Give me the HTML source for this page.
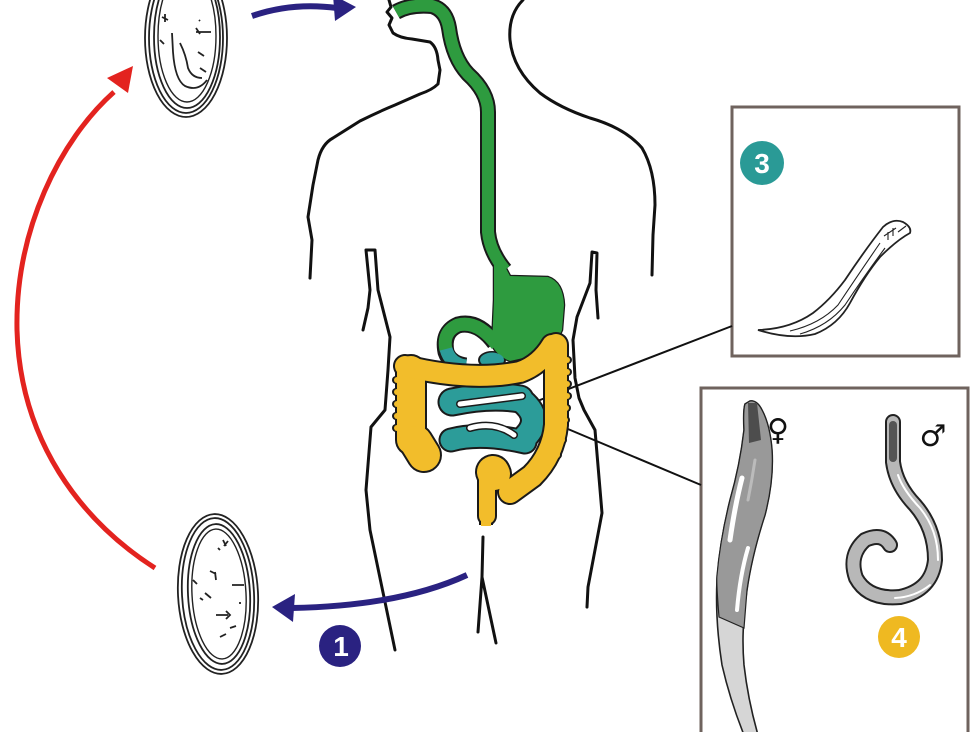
<!DOCTYPE html>
<html>
<head>
<meta charset="utf-8">
<style>
html,body{margin:0;padding:0;background:#fff;}
svg{display:block;}
</style>
</head>
<body>
<svg width="979" height="732" viewBox="0 0 979 732" xmlns="http://www.w3.org/2000/svg">
<rect width="979" height="732" fill="#fff"/>

<!-- Boxes -->
<rect x="732" y="107" width="227" height="249" fill="#fff" stroke="#6f635e" stroke-width="3"/>
<rect x="701" y="388" width="267" height="360" fill="#fff" stroke="#6f635e" stroke-width="3"/>

<!-- Connector lines -->
<line x1="527" y1="405" x2="732" y2="326" stroke="#111" stroke-width="2"/>
<line x1="556" y1="424" x2="701" y2="485" stroke="#111" stroke-width="2"/>

<!-- Body outline -->
<g fill="none" stroke="#111" stroke-width="3" stroke-linejoin="round" stroke-linecap="round">
  <path d="M389,0 L391,7 L387,12 L392,18 L389,25 L393,33 Q400,38 412,39 L430,42 Q437,47 438,60 L440,70 L438,84 Q432,90 420,94 L395,105 Q378,112 360,121 L333,138 Q322,144 318,160 L313,185 L308,217 L312,240 L310,278"/>
  <path d="M523,0 Q508,15 510,40 Q513,70 540,93 Q560,108 590,118 Q625,128 642,148 Q655,170 655,205 L653,235 L652,275"/>
  <path d="M363,330 L368,308 L370,290 L366,250 L375,250 L378,290 L390,337 L388,370 L385,410 L371,427 L366,490 L370,530 L395,650"/>
  <path d="M598,318 L596,290 L597,253 L592,252 L590,283 L577,317 L573,340 L575,378 L579,398 L584,410 L595,430 L602,513 L588,587 L587,607"/>
  <path d="M483,537 L482,577 L478,632 M482,577 L496,643"/>
</g>

<!-- Esophagus outline -->
<path d="M396,12 Q410,4 432,6 Q446,10 449,28 Q453,58 468,74 Q488,92 488,112 L488,232 Q490,252 505,270" fill="none" stroke="#1a1a1a" stroke-width="16" stroke-linecap="butt"/>
<!-- Duodenum arc outline -->
<path d="M495,343 Q478,320 458,325 Q442,332 446,352 Q450,364 466,366" fill="none" stroke="#1a1a1a" stroke-width="17"/>
<ellipse cx="492" cy="360" rx="14" ry="9" fill="#1a1a1a"/>
<!-- Stomach -->
<path d="M494,245 L510,276 L548,277 Q563,282 564,305 L562,330 Q555,348 532,356 L510,361 Q497,356 492,345 L494,300 Z" fill="#2e9b3f" stroke="#1a1a1a" stroke-width="2.5"/>
<path d="M396,12 Q410,4 432,6 Q446,10 449,28 Q453,58 468,74 Q488,92 488,112 L488,232 Q490,252 505,270" fill="none" stroke="#2e9b3f" stroke-width="12"/>
<path d="M494,245 L510,276 L548,277 Q563,282 564,305 L562,330 Q555,348 532,356 L510,361 Q497,356 492,345 L494,300 Z" fill="#2e9b3f"/>
<path d="M497,345 Q478,320 458,325 Q442,332 446,350" fill="none" stroke="#2e9b3f" stroke-width="13"/>
<path d="M446,349 Q450,364 466,366" fill="none" stroke="#2c9c99" stroke-width="13"/>
<ellipse cx="492" cy="360" rx="12" ry="7.5" fill="#2c9c99"/>

<!-- Small intestine -->
<g fill="none" stroke-linecap="round" stroke-linejoin="round">
  <g stroke="#1a1a1a">
    <path d="M452,402 Q490,394 520,399" stroke-width="29"/>
    <path d="M522,401 Q545,420 522,440" stroke-width="27"/>
    <path d="M451,440 Q480,432 525,442" stroke-width="25"/>
  </g>
  <g stroke="#2c9c99">
    <path d="M452,402 Q490,394 520,399" stroke-width="25"/>
    <path d="M522,401 Q545,420 522,440" stroke-width="23"/>
    <path d="M451,440 Q480,432 525,442" stroke-width="21"/>
  </g>
  <path d="M460,404 Q490,400 522,396" stroke="#1a1a1a" stroke-width="8"/>
  <path d="M460,404 Q490,400 522,396" stroke="#fff" stroke-width="5"/>
  <path d="M470,428 Q495,421 514,435" stroke="#1a1a1a" stroke-width="8"/>
  <path d="M470,428 Q495,421 514,435" stroke="#fff" stroke-width="5"/>
</g>

<!-- Colon -->
<g fill="none" stroke-linecap="round" stroke-linejoin="round">
  <g stroke="#1a1a1a">
    <path d="M411,370 L411,440" stroke-width="32"/>
    <path d="M416,442 L424,455" stroke-width="36"/>
    <path d="M405,366 Q470,382 520,372 Q540,365 552,345" stroke-width="24"/>
    <path d="M556,345 L556,425 Q553,455 532,476 L510,492" stroke-width="26"/>
    <path d="M493,472 L494,474" stroke-width="36"/>
    <path d="M487,480 L487,516" stroke-width="20"/>
    <path d="M486,516 L486,525" stroke-width="14" stroke-linecap="butt"/>
  </g>
  <g fill="#1a1a1a" stroke="none">
    <circle cx="396" cy="380" r="4"/><circle cx="396" cy="392" r="4"/><circle cx="396" cy="404" r="4"/><circle cx="396" cy="416" r="4"/><circle cx="396" cy="428" r="4"/>
    <circle cx="568" cy="360" r="4"/><circle cx="568" cy="372" r="4"/><circle cx="568" cy="384" r="4"/><circle cx="568" cy="396" r="4"/><circle cx="567" cy="408" r="4"/><circle cx="566" cy="420" r="4"/><circle cx="563" cy="440" r="4"/><circle cx="558" cy="455" r="4"/><circle cx="549" cy="468" r="4"/><circle cx="538" cy="480" r="4"/>
  </g>
  <g stroke="#f2bd2b">
    <path d="M411,370 L411,440" stroke-width="28"/>
    <path d="M416,442 L424,455" stroke-width="32"/>
    <path d="M405,366 Q470,382 520,372 Q540,365 552,345" stroke-width="20"/>
    <path d="M556,345 L556,425 Q553,455 532,476 L510,492" stroke-width="22"/>
    <path d="M493,472 L494,474" stroke-width="32"/>
    <path d="M487,480 L487,516" stroke-width="16"/>
    <path d="M486,516 L486,526" stroke-width="10" stroke-linecap="butt"/>
  </g>
  <g fill="#f2bd2b" stroke="none">
    <circle cx="397" cy="380" r="3"/><circle cx="397" cy="392" r="3"/><circle cx="397" cy="404" r="3"/><circle cx="397" cy="416" r="3"/><circle cx="397" cy="428" r="3"/>
    <circle cx="567" cy="360" r="3"/><circle cx="567" cy="372" r="3"/><circle cx="567" cy="384" r="3"/><circle cx="567" cy="396" r="3"/><circle cx="566" cy="408" r="3"/><circle cx="565" cy="420" r="3"/><circle cx="562" cy="440" r="3"/><circle cx="557" cy="455" r="3"/><circle cx="548" cy="468" r="3"/><circle cx="537" cy="480" r="3"/>
  </g>
</g>

<!-- Arrows -->
<path d="M155,568 C80,520 20,440 17,330 C15,230 60,140 114,92" fill="none" stroke="#e3231f" stroke-width="5"/>
<polygon points="133,66 128,93 107,78" fill="#e3231f"/>

<path d="M252,16 Q292,2 337,8" fill="none" stroke="#2a2281" stroke-width="6"/>
<polygon points="356,7 333,-5 335,21" fill="#2a2281"/>

<path d="M467,575 Q400,606 292,608" fill="none" stroke="#2a2281" stroke-width="6"/>
<polygon points="272,607 295,594 293,622" fill="#2a2281"/>

<!-- Badges -->
<circle cx="340" cy="646" r="21" fill="#2a2281"/>
<text x="341" y="656" font-family="Liberation Sans, sans-serif" font-weight="bold" font-size="28" fill="#fff" text-anchor="middle">1</text>
<circle cx="762" cy="163" r="22" fill="#2a9a96"/>
<text x="762" y="173" font-family="Liberation Sans, sans-serif" font-weight="bold" font-size="28" fill="#fff" text-anchor="middle">3</text>
<circle cx="899" cy="637" r="21" fill="#efb921"/>
<text x="899" y="647" font-family="Liberation Sans, sans-serif" font-weight="bold" font-size="28" fill="#fff" text-anchor="middle">4</text>

<!-- Top egg -->
<g fill="none" stroke="#222" stroke-width="1.8">
  <ellipse cx="186" cy="38" rx="41" ry="79"/>
  <ellipse cx="186" cy="38" rx="37" ry="75"/>
  <ellipse cx="187" cy="37" rx="33" ry="71"/>
  <ellipse cx="187" cy="36" rx="29" ry="66" stroke-width="1.4"/>
  <path d="M172,33 L173,52 Q175,80 185,86 Q198,92 207,80"/>
  <path d="M180,43 Q186,55 188,68 Q192,78 202,78"/>
  <path d="M162,17 L168,20 M165,14 L165,22 M196,32 L211,32 M196,28 L200,34 M198,52 L204,56 M200,68 L206,72 M160,40 L164,44 M199,20 L200,21"/>
</g>

<!-- Bottom egg -->
<g fill="none" stroke="#222" stroke-width="1.8">
  <ellipse cx="218" cy="594" rx="40" ry="80" transform="rotate(-3 218 594)"/>
  <ellipse cx="218" cy="594" rx="36" ry="76" transform="rotate(-3 218 594)"/>
  <ellipse cx="219" cy="594" rx="31" ry="70" transform="rotate(-3 219 594)"/>
  <ellipse cx="219" cy="594" rx="27" ry="65" stroke-width="1.4" transform="rotate(-3 219 594)"/>
  <path d="M223,540 L226,546 M228,541 L224,546 M210,571 L216,574 M215,572 L216,580 M232,585 L244,585 M205,593 L211,598 M216,615 L228,615 M226,611 L230,615 L226,619 M230,628 L236,626 M220,637 L226,634 M193,580 L197,584 M200,598 L203,600 M240,602 L240,604 M218,548 L220,550"/>
</g>

<!-- Larva (box 3) -->
<path d="M758,330 Q790,329 813,313 Q830,300 845,280 Q865,250 883,227 Q893,218 903,222 Q912,227 910,233 Q897,240 880,257 Q865,275 850,303 Q838,325 815,334 Q790,340 758,330 Z" fill="#fff" stroke="#222" stroke-width="1.8"/>
<path d="M790,331 Q820,324 838,305 Q858,275 880,243 M800,334 Q828,326 845,305 Q865,275 885,248" fill="none" stroke="#222" stroke-width="1.1"/>
<path d="M884,236 L896,228 M888,240 L888,232 M893,236 L893,228 M898,232 L906,226" fill="none" stroke="#222" stroke-width="1.1"/>

<!-- Female worm -->
<path d="M750,401 Q757,400 762,410 Q770,425 772,450 Q774,480 765,515 Q752,555 747,590 Q741,630 744,665 Q748,700 758,735 L744,735 Q730,700 722,665 Q715,620 717,580 Q720,540 730,500 Q740,465 744,430 Q743,410 745,404 Z" fill="#d6d6d6" stroke="#222" stroke-width="1.6"/>
<path d="M750,401 Q757,400 762,410 Q770,425 772,450 Q774,480 765,515 Q752,555 747,590 L744,628 L719,617 Q716,580 717,575 Q720,540 730,500 Q740,465 744,430 Q743,410 745,404 Z" fill="#999" stroke="#222" stroke-width="1.2"/>
<path d="M748,403 L757,403 L761,440 L749,443 Z" fill="#4d4d4d"/>
<g fill="none" stroke-linecap="round">
  <path d="M742,478 Q735,505 730,540" stroke="#fff" stroke-width="5"/>
  <path d="M748,548 Q740,575 737,610" stroke="#fff" stroke-width="4"/>
  <path d="M755,460 Q752,480 748,500" stroke="#bbb" stroke-width="3"/>
</g>
<text x="778" y="440" font-family="DejaVu Sans, sans-serif" font-size="30" fill="#111" text-anchor="middle">♀</text>

<!-- Male worm -->
<g fill="none" stroke-linecap="round" stroke-linejoin="round">
  <path d="M893,422 L893,462 Q896,485 915,505 Q935,528 935,560 Q932,590 900,597 Q868,600 856,578 Q848,555 865,540 Q882,532 890,545" stroke="#222" stroke-width="16"/>
  <path d="M893,422 L893,462 Q896,485 915,505 Q935,528 935,560 Q932,590 900,597 Q868,600 856,578 Q848,555 865,540 Q882,532 890,545" stroke="#b8b8b8" stroke-width="12"/>
  <path d="M898,475 Q903,490 920,508 Q938,530 938,560 M930,585 Q915,597 895,598" stroke="#fff" stroke-width="2"/>
  <path d="M893,425 L893,458" stroke="#555" stroke-width="8"/>
</g>
<text x="933" y="446" font-family="DejaVu Sans, sans-serif" font-size="30" fill="#111" text-anchor="middle">♂</text>
</svg>
</body>
</html>
